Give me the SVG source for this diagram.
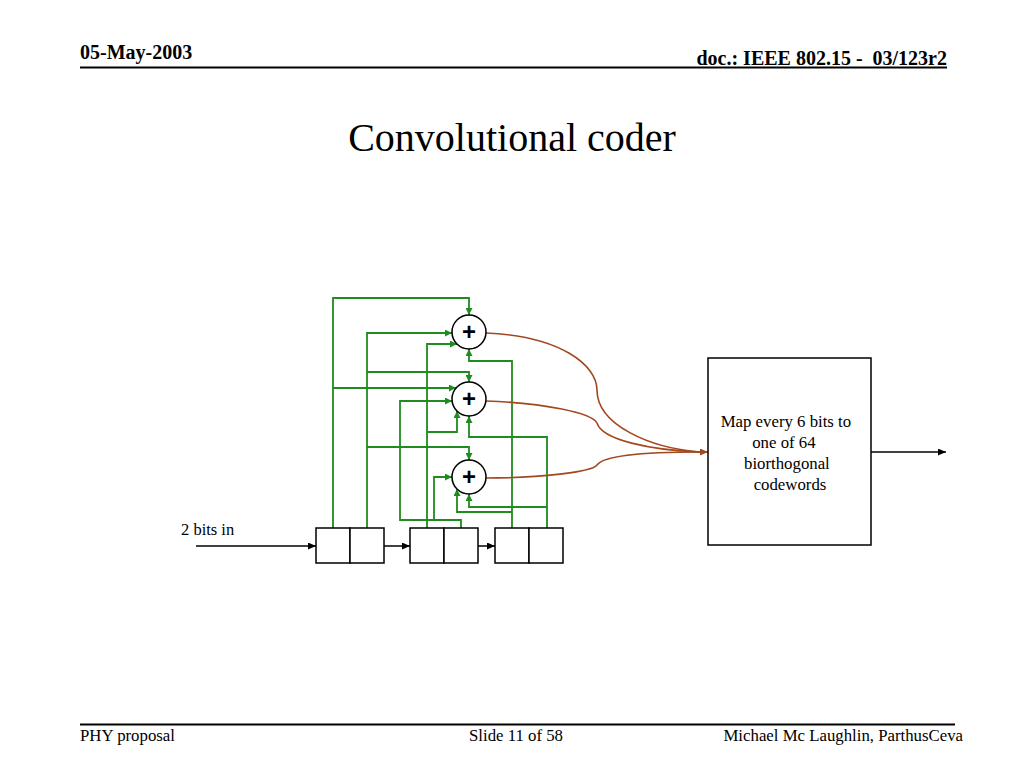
<svg xmlns="http://www.w3.org/2000/svg" width="1024" height="768" viewBox="0 0 1024 768">
<defs>
<style>
.serif{font-family:"Liberation Serif","Times New Roman",serif;fill:#000}
.hdr{font-size:20px;font-weight:bold}
.ftr{font-size:16.8px}
.g{fill:none;stroke:#1e8c1e;stroke-width:1.8;marker-end:url(#ag)}
.b{fill:none;stroke:#a3471e;stroke-width:1.6}
.reg{fill:#fff;stroke:#000;stroke-width:1.5}
.add{fill:#fff;stroke:#000;stroke-width:1.5}
.plus{font-family:"Liberation Sans",Arial,sans-serif;font-size:24px;font-weight:bold;text-anchor:middle;fill:#000}
.k{fill:none;stroke:#000;stroke-width:1.5;marker-end:url(#ak)}
</style>
<marker id="ag" viewBox="0 0 7 7" refX="7" refY="3.5" markerWidth="7" markerHeight="7" orient="auto" markerUnits="userSpaceOnUse"><path d="M0,0 L7,3.5 L0,7 z" fill="#1e8c1e"/></marker>
<marker id="ak" viewBox="0 0 8 7" refX="8" refY="3.5" markerWidth="8" markerHeight="7" orient="auto" markerUnits="userSpaceOnUse"><path d="M0,0 L8,3.5 L0,7 z" fill="#000"/></marker>
<marker id="ab" viewBox="0 0 8 7" refX="8" refY="3.5" markerWidth="8" markerHeight="7" orient="auto" markerUnits="userSpaceOnUse"><path d="M0,0 L8,3.5 L0,7 z" fill="#a3471e"/></marker>
</defs>
<rect width="1024" height="768" fill="#fff"/>
<g id="header">
<text class="serif hdr" x="80" y="59">05-May-2003</text>
<text class="serif hdr" x="947" y="65" text-anchor="end" xml:space="preserve">doc.: IEEE 802.15 -  03/123r2</text>
<line x1="80" y1="67.5" x2="947" y2="67.5" stroke="#000" stroke-width="2"/>
</g>
<text id="title" class="serif" x="512" y="151" font-size="40" text-anchor="middle">Convolutional coder</text>
<g id="connectors">
<path class="g" d="M333,528 V298 H469 V315"/>
<path class="g" d="M333,388 H456"/>
<path class="g" d="M367,528 V333 H452"/>
<path class="g" d="M367,372 H469 V382"/>
<path class="g" d="M367,447 H469 V460"/>
<path class="g" d="M427,528 V344 H457"/>
<path class="g" d="M427,432 H457 V411"/>
<path class="g" d="M461,528 V520 H400 V401 H452"/>
<path class="g" d="M434,520 V477 H452"/>
<path class="g" d="M512,528 V361 H469 V349"/>
<path class="g" d="M512,512 H457 V489"/>
<path class="g" d="M547,528 V437 H469 V416"/>
<path class="g" d="M547,507 H469 V494"/>
<path class="b" d="M486,333 C560,336 597,365 597,390 C597,425 650,448 700,452"/>
<path class="b" d="M486,401 C545,403 592,413 597,423 C602,440 650,450 700,452"/>
<path class="b" d="M486,478 C540,478 592,472 597,465 C604,455 650,452 700,452"/>
<path class="b" d="M698,452 H708" marker-end="url(#ab)"/>
<path class="k" d="M196,546 H316"/>
<path class="k" d="M384,546 H410"/>
<path class="k" d="M478,546 H495"/>
<path class="k" d="M871,452 H946"/>
</g>
<g id="input-label"><text class="serif" x="181" y="535" font-size="16.5">2 bits in</text></g>
<g id="reg1"><rect class="reg" x="316" y="528" width="34" height="35"/><rect class="reg" x="350" y="528" width="34" height="35"/></g>
<g id="reg2"><rect class="reg" x="410" y="528" width="34" height="35"/><rect class="reg" x="444" y="528" width="34" height="35"/></g>
<g id="reg3"><rect class="reg" x="495" y="528" width="34" height="35"/><rect class="reg" x="529" y="528" width="34" height="35"/></g>
<g id="adder1"><circle class="add" cx="469" cy="332" r="17"/><text class="plus" x="469" y="340">+</text></g>
<g id="adder2"><circle class="add" cx="469" cy="399" r="17"/><text class="plus" x="469" y="407">+</text></g>
<g id="adder3"><circle class="add" cx="469" cy="477" r="17"/><text class="plus" x="469" y="485">+</text></g>
<g id="mapper">
<rect x="708" y="358" width="163" height="187" fill="#fff" stroke="#000" stroke-width="1.5"/>
<text class="serif" font-size="16.8" text-anchor="middle">
<tspan x="788" y="427">Map every 6 bits to</tspan>
<tspan x="786" y="448">one of 64</tspan>
<tspan x="789" y="469">biorthogonal</tspan>
<tspan x="790" y="490">codewords</tspan>
</text>
</g>
<g id="footer">
<line x1="80" y1="724.5" x2="955" y2="724.5" stroke="#000" stroke-width="2"/>
<text class="serif ftr" x="80" y="741">PHY proposal</text>
<text class="serif ftr" x="516" y="741" text-anchor="middle">Slide 11 of 58</text>
<text class="serif ftr" x="963" y="741" text-anchor="end">Michael Mc Laughlin, ParthusCeva</text>
</g>
</svg>
